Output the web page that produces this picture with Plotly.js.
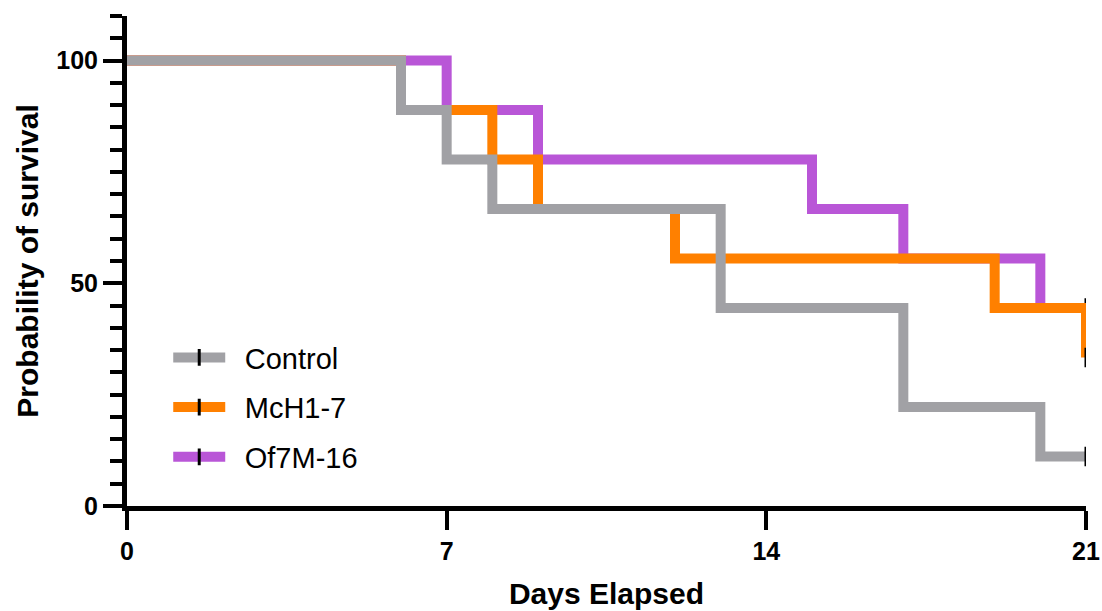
<!DOCTYPE html>
<html>
<head>
<meta charset="utf-8">
<script src="https://cdn.plot.ly/plotly-3.0.1.min.js"></script>
<style>
html,body{margin:0;padding:0;background:#fff;}
#chart{width:1102px;height:611px;}
</style>
</head>
<body>
<div id="chart"></div>
<script>
// Kaplan-Meier survival data (days, % survival)
const seriesNames = ["Control", "McH1-7", "Of7M-16"];
const controlDays = [0, 6, 7, 8, 13, 17, 20, 21];
const controlSurv = [100, 88.89, 77.78, 66.67, 44.44, 22.22, 11.11, 11.11];
const mchDays = [0, 6, 8, 9, 12, 19, 21];
const mchSurv = [100, 88.89, 77.78, 66.67, 55.56, 44.44, 33.33];
const of7Days = [0, 7, 9, 15, 17, 20, 21];
const of7Surv = [100, 88.89, 77.78, 66.67, 55.56, 44.44, 44.44];
// censored observations
const controlCensorDays = [21];
const controlCensorSurv = [11.11];
const mchCensorDays = [21];
const mchCensorSurv = [33.33];
const of7CensorDays = [21];
const of7CensorSurv = [44.44];
const xTicks = [0, 7, 14, 21];
const yTicks = [0, 50, 100];

const colors = {"Control": "#a1a1a5", "McH1-7": "#ff8000", "Of7M-16": "#b956d7"};
const LW = 10;
const tickMarker = {symbol: "line-ns", size: 14, color: "#000", line: {color: "#000", width: 3}};

function lineTrace(name, x, y) {
  return {x: x, y: y, type: "scatter", mode: "lines", line: {shape: "hv", width: LW, color: colors[name]},
          showlegend: false, hoverinfo: "skip", name: name};
}
function censorTrace(name, x, y) {
  return {x: x, y: y, type: "scatter", mode: "markers", marker: tickMarker, showlegend: false, hoverinfo: "skip", name: name};
}
function legendTrace(name) {
  return {x: [null], y: [null], type: "scatter", mode: "lines+markers", name: "\u2002" + name,
          legendgroup: name, line: {width: LW, color: colors[name]},
          marker: Object.assign({}, tickMarker, {size: 12}), showlegend: true};
}

const data = [
  lineTrace("Of7M-16", of7Days, of7Surv),
  censorTrace("Of7M-16", of7CensorDays, of7CensorSurv),
  lineTrace("McH1-7", mchDays, mchSurv),
  censorTrace("McH1-7", mchCensorDays, mchCensorSurv),
  lineTrace("Control", controlDays, controlSurv),
  censorTrace("Control", controlCensorDays, controlCensorSurv),
  legendTrace(seriesNames[0]),
  legendTrace(seriesNames[1]),
  legendTrace(seriesNames[2])
];

const font = "Liberation Sans, Arial, sans-serif";
const layout = {
  width: 1102, height: 611,
  margin: {l: 127, r: 16, t: 16, b: 105},
  paper_bgcolor: "#fff", plot_bgcolor: "#fff",
  showlegend: true,
  legend: {x: 0.043, y: 0.355, xanchor: "left", yanchor: "top", bgcolor: "rgba(0,0,0,0)",
           font: {family: font, size: 29, color: "#000"}, itemwidth: 52,
           traceorder: "grouped", tracegroupgap: 9},
  xaxis: {
    range: [0, 21], tickvals: xTicks, ticktext: xTicks.map(String),
    showgrid: false, zeroline: false, showline: true, linecolor: "#000", linewidth: 5,
    ticks: "outside", ticklen: 19, tickwidth: 4, tickcolor: "#000",
    tickfont: {family: font, size: 25, color: "#000", weight: "bold"},
    title: {text: "Days Elapsed", font: {family: font, size: 30, color: "#000", weight: "bold"}, standoff: 20}
  },
  yaxis: {
    range: [0, 110], tickvals: yTicks, ticktext: yTicks.map(String),
    showgrid: false, zeroline: false, showline: true, linecolor: "#000", linewidth: 5,
    ticks: "outside", ticklen: 19, tickwidth: 4, tickcolor: "#000",
    minor: {dtick: 5, tick0: 0, ticks: "outside", ticklen: 12, tickwidth: 4, tickcolor: "#000", showgrid: false},
    tickfont: {family: font, size: 25, color: "#000", weight: "bold"},
    title: {text: "Probability of survival", font: {family: font, size: 30, color: "#000", weight: "bold"}, standoff: 10}
  }
};

Plotly.newPlot("chart", data, layout, {displayModeBar: false, staticPlot: true});
</script>
</body>
</html>
